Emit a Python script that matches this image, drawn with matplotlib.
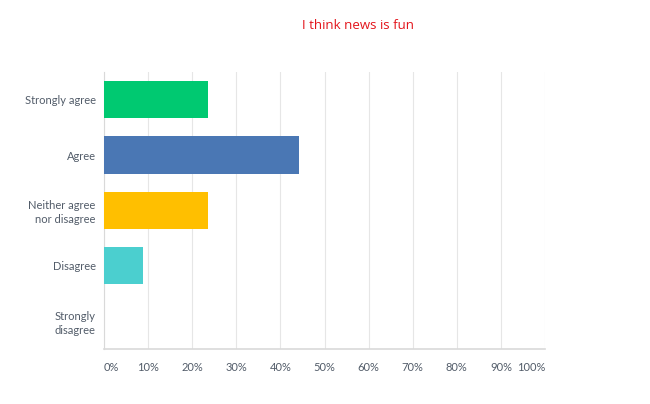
import matplotlib.pyplot as plt

# Data
answers = ['Strongly agree', 'Agree', 'Neither agree\nnor disagree', 'Disagree', 'Strongly\ndisagree']
percents = [23.53, 44.12, 23.53, 8.82, 0.0]
colors = ['#00c971', '#4a77b4', '#ffbf00', '#4bcfcf', '#8e6dc6']
xticks = [0, 10, 20, 30, 40, 50, 60, 70, 80, 90, 100]

plt.rcParams['font.family'] = ['Lato', 'DejaVu Sans']

fig = plt.figure(figsize=(6.5, 4.04), dpi=100)
ax = fig.add_axes([0.16, 0.136, 0.6785, 0.686])

ax.barh(range(len(answers)), percents, height=0.67, color=colors, zorder=3)

ax.set_xlim(0, 100)
ax.set_ylim(4.5, -0.5)
ax.set_yticks(range(len(answers)))
ax.set_yticklabels(answers, fontsize=8, color='#525c69', linespacing=1.3)
ax.set_xticks(xticks)
ax.set_xticklabels([f'{t}%' for t in xticks], fontsize=8, color='#525c69')
# first and last labels are kept inside the plot width
ax.get_xticklabels()[0].set_ha('left')
ax.get_xticklabels()[-1].set_ha('right')
ax.tick_params(length=0)
ax.tick_params(axis='x', pad=9)
ax.tick_params(axis='y', pad=6)

ax.grid(axis='x', color='#e6e6e6', linewidth=0.8, zorder=0)
for side in ['top', 'right']:
    ax.spines[side].set_visible(False)
ax.spines['left'].set_color('#d9d9d9')
ax.spines['bottom'].set_color('#d9d9d9')
ax.spines['bottom'].set_linewidth(1.2)

fig.text(0.551, 0.938, 'I think news is fun', color='#e3141b', fontsize=9.5,
         ha='center', va='center', family=['Open Sans', 'DejaVu Sans'])

fig.savefig('out.png', dpi=100)
